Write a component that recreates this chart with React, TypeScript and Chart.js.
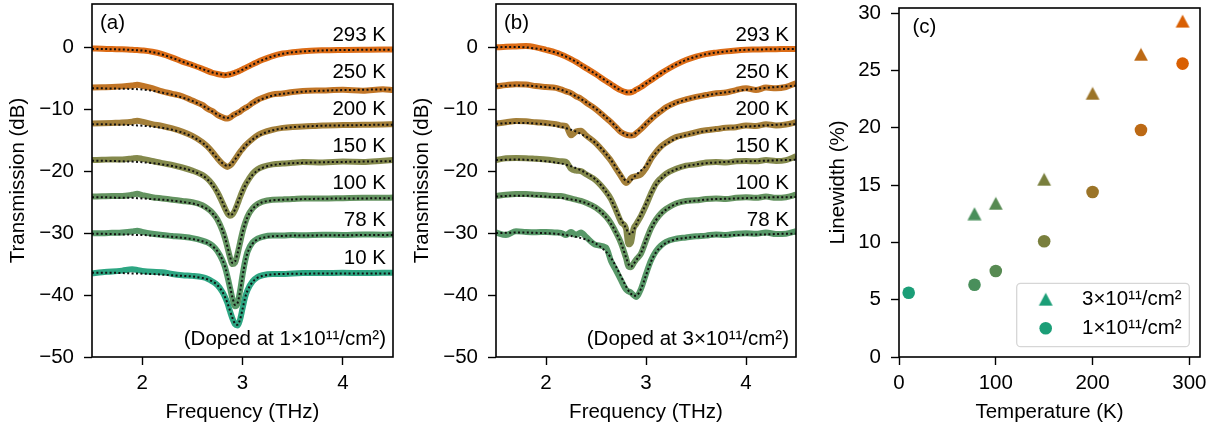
import React, { useEffect, useRef } from "react";
import { Chart, registerables } from "chart.js";
Chart.register(...registerables);

const FONT_FAMILY = '"Liberation Sans", Arial, Helvetica, sans-serif';
const FS = 20.5;

// ---------------- Panel (a): doped at 1e11 ----------------
const freqA = [
  1.5, 1.6, 1.7, 1.8, 1.9, 1.95, 2.0,
  2.1, 2.2, 2.3, 2.4, 2.5, 2.6,
  2.65, 2.7, 2.75, 2.8, 2.825, 2.85, 2.875, 2.9, 2.925, 2.95, 2.975, 3.0, 3.025, 3.05,
  3.1, 3.15, 3.2, 3.3, 3.4, 3.5, 3.6, 3.8, 4.0, 4.2, 4.4, 4.5,
];
const tempsA = [293, 250, 200, 150, 100, 78, 10];
const offsetsA = [0, -6, -12, -18, -24, -30, -36];

const dataA293 = [
  -0.2, -0.22, -0.28, -0.3, -0.4, -0.42, -0.5,
  -0.72, -1.1, -1.65, -2.3, -2.85, -3.45,
  -3.8, -4.1, -4.3, -4.45, -4.5, -4.45, -4.35, -4.25, -4.1, -3.95, -3.75, -3.55, -3.35, -3.15,
  -2.75, -2.35, -2.0, -1.4, -1.0, -0.78, -0.62, -0.48, -0.42, -0.38, -0.35, -0.35,
];
const fitA293 = [
  -0.25, -0.27, -0.3, -0.35, -0.42, -0.46, -0.52,
  -0.75, -1.15, -1.7, -2.3, -2.9, -3.5,
  -3.8, -4.05, -4.25, -4.4, -4.42, -4.4, -4.33, -4.22, -4.1, -3.95, -3.78, -3.6, -3.4, -3.2,
  -2.8, -2.4, -2.05, -1.45, -1.05, -0.8, -0.65, -0.5, -0.43, -0.4, -0.38, -0.37,
];
const dataA250 = [
  -6.5, -6.45, -6.4, -6.3, -6.15, -6.05, -6.2,
  -6.6, -7.1, -7.5, -7.9, -8.6, -9.3,
  -9.9, -10.3, -10.9, -11.3, -11.45, -11.5, -11.35, -11.05, -10.8, -10.6, -10.4, -10.05, -9.8, -9.6,
  -9.0, -8.5, -8.15, -7.6, -7.45, -7.2, -7.05, -6.95, -6.85, -7.0, -6.75, -6.9,
];
const fitA250 = [
  -6.6, -6.62, -6.65, -6.68, -6.72, -6.75, -6.8,
  -7.0, -7.3, -7.65, -8.1, -8.65, -9.4,
  -9.85, -10.35, -10.85, -11.25, -11.38, -11.4, -11.3, -11.1, -10.85, -10.6, -10.35, -10.1, -9.85, -9.6,
  -9.1, -8.65, -8.3, -7.8, -7.5, -7.3, -7.15, -7.0, -6.9, -6.85, -6.8, -6.8,
];
const dataA200 = [
  -12.3, -12.25, -12.2, -12.15, -12.0, -11.85, -12.0,
  -12.4, -12.7, -13.1, -13.6, -14.3, -15.3,
  -16.0, -16.9, -17.9, -18.8, -19.1, -19.3, -19.1, -18.7, -18.1, -17.5, -16.9, -16.4, -15.9, -15.5,
  -14.8, -14.2, -13.8, -13.3, -13.0, -12.85, -12.8, -12.6, -12.55, -12.5, -12.45, -12.4,
];
const fitA200 = [
  -12.4, -12.42, -12.45, -12.5, -12.55, -12.6, -12.65,
  -12.8, -13.0, -13.3, -13.75, -14.4, -15.4,
  -16.1, -17.0, -17.9, -18.7, -19.0, -19.15, -19.0, -18.6, -18.1, -17.55, -17.0, -16.5, -16.0, -15.6,
  -14.9, -14.35, -13.95, -13.4, -13.1, -12.9, -12.8, -12.65, -12.6, -12.55, -12.5, -12.5,
];
const dataA150 = [
  -18.2, -18.15, -18.1, -18.1, -17.95, -17.85, -18.0,
  -18.35, -18.7, -19.0, -19.4, -19.9, -20.6,
  -21.2, -22.1, -23.4, -25.1, -26.0, -26.8, -27.2, -27.0, -26.3, -25.3, -24.2, -23.2, -22.3, -21.6,
  -20.4, -19.7, -19.3, -18.9, -18.75, -18.65, -18.5, -18.6, -18.45, -18.5, -18.3, -18.2,
];
const fitA150 = [
  -18.3, -18.32, -18.35, -18.4, -18.45, -18.5, -18.55,
  -18.7, -18.9, -19.15, -19.5, -19.95, -20.7,
  -21.3, -22.2, -23.4, -25.0, -25.9, -26.7, -27.1, -26.9, -26.2, -25.2, -24.2, -23.2, -22.4, -21.7,
  -20.6, -19.9, -19.45, -19.0, -18.8, -18.7, -18.65, -18.55, -18.5, -18.45, -18.4, -18.4,
];
const dataA100 = [
  -24.1, -24.05, -24.0, -24.0, -23.8, -23.65, -23.85,
  -24.2, -24.4, -24.6, -24.8, -25.0, -25.5,
  -26.0, -26.7, -27.8, -29.6, -30.8, -32.3, -33.9, -35.0, -34.8, -33.4, -31.6, -29.8, -28.4, -27.3,
  -26.0, -25.3, -24.9, -24.6, -24.55, -24.5, -24.4, -24.4, -24.35, -24.3, -24.3, -24.25,
];
const fitA100 = [
  -24.2, -24.2, -24.25, -24.3, -24.3, -24.35, -24.4,
  -24.5, -24.6, -24.75, -24.95, -25.2, -25.7,
  -26.1, -26.8, -27.8, -29.5, -30.7, -32.2, -33.8, -34.8, -34.6, -33.3, -31.6, -29.9, -28.5, -27.4,
  -26.1, -25.4, -25.0, -24.7, -24.6, -24.55, -24.5, -24.45, -24.4, -24.4, -24.35, -24.35,
];
const dataA78 = [
  -30.0, -30.0, -29.95, -29.9, -29.75, -29.6, -29.8,
  -30.1, -30.3, -30.45, -30.6, -30.8, -31.2,
  -31.5, -32.0, -32.9, -34.4, -35.5, -37.0, -38.8, -40.6, -41.8, -41.4, -39.4, -36.8, -34.6, -33.0,
  -31.5, -30.9, -30.6, -30.4, -30.4, -30.3, -30.35, -30.25, -30.3, -30.2, -30.25, -30.2,
];
const fitA78 = [
  -30.1, -30.1, -30.15, -30.2, -30.25, -30.3, -30.3,
  -30.4, -30.5, -30.6, -30.75, -30.95, -31.3,
  -31.6, -32.1, -32.9, -34.3, -35.4, -36.8, -38.6, -40.4, -41.6, -41.3, -39.5, -37.0, -34.8, -33.2,
  -31.7, -31.0, -30.75, -30.5, -30.45, -30.4, -30.4, -30.35, -30.35, -30.3, -30.3, -30.3,
];
const dataA10 = [
  -36.5, -36.3, -36.2, -36.05, -35.85, -35.95, -36.1,
  -36.25, -36.3, -36.6, -36.8, -36.9, -37.1,
  -37.35, -37.8, -38.4, -39.5, -40.3, -41.3, -42.6, -43.8, -44.7, -44.9, -44.0, -42.2, -40.4, -39.2,
  -37.8, -37.1, -36.8, -36.6, -36.6, -36.5, -36.45, -36.45, -36.4, -36.45, -36.4, -36.4,
];
const fitA10 = [
  -36.4, -36.4, -36.4, -36.45, -36.5, -36.5, -36.55,
  -36.6, -36.7, -36.8, -36.9, -37.0, -37.25,
  -37.45, -37.8, -38.4, -39.5, -40.3, -41.3, -42.5, -43.7, -44.6, -44.8, -44.0, -42.3, -40.5, -39.3,
  -37.9, -37.2, -36.9, -36.65, -36.6, -36.55, -36.55, -36.5, -36.5, -36.5, -36.5, -36.5,
];

// ---------------- Panel (b): doped at 3e11 ----------------
const freqB = [
  1.5, 1.6, 1.7, 1.8, 1.9, 2.0,
  2.1, 2.15, 2.2, 2.25, 2.3, 2.35, 2.4,
  2.5, 2.6, 2.65, 2.7, 2.75, 2.8, 2.825, 2.85, 2.875, 2.9, 2.95, 3.0, 3.05,
  3.1, 3.15, 3.2, 3.3, 3.4, 3.5, 3.6, 3.7, 3.8, 3.9, 4.0, 4.1, 4.2, 4.3, 4.4, 4.5,
];
const tempsB = [293, 250, 200, 150, 100, 78];
const offsetsB = [0, -6, -12, -18, -24, -30];

const dataB293 = [
  0.0, 0.1, 0.15, 0.2, 0.0, -0.4,
  -0.85, -1.15, -1.5, -1.9, -2.35, -2.85, -3.35,
  -4.35, -5.45, -5.95, -6.5, -6.95, -7.25, -7.3, -7.25, -7.1, -6.85, -6.4, -5.85, -5.3,
  -4.75, -4.2, -3.7, -2.8, -2.05, -1.5, -1.1, -0.85, -0.65, -0.5, -0.4, -0.35, -0.3, -0.3, -0.25, -0.25,
];
const fitB293 = [
  0.0, 0.05, 0.05, 0.0, -0.2, -0.45,
  -0.85, -1.15, -1.5, -1.9, -2.35, -2.85, -3.35,
  -4.35, -5.4, -5.95, -6.5, -6.95, -7.2, -7.25, -7.2, -7.05, -6.85, -6.4, -5.85, -5.3,
  -4.75, -4.2, -3.7, -2.8, -2.05, -1.5, -1.1, -0.85, -0.65, -0.5, -0.4, -0.35, -0.32, -0.3, -0.28, -0.27,
];
const dataB250 = [
  -6.3, -6.1, -5.95, -6.0, -6.25, -6.4,
  -6.55, -6.8, -7.1, -7.4, -7.9, -8.3, -8.9,
  -10.0, -11.4, -12.1, -12.9, -13.7, -14.1, -14.2, -14.25, -14.2, -13.9, -13.2, -12.4, -11.6,
  -10.9, -10.3, -9.7, -8.9, -8.4, -8.0, -7.7, -7.4, -7.3, -6.9, -6.6, -6.9, -6.5, -6.6, -6.4, -5.8,
];
const fitB250 = [
  -6.3, -6.2, -6.15, -6.15, -6.3, -6.45,
  -6.65, -6.85, -7.15, -7.5, -7.9, -8.35, -8.85,
  -9.95, -11.3, -12.0, -12.85, -13.6, -14.05, -14.2, -14.2, -14.05, -13.8, -13.15, -12.35, -11.6,
  -10.9, -10.3, -9.8, -9.0, -8.45, -8.05, -7.75, -7.5, -7.25, -7.05, -6.85, -6.7, -6.55, -6.4, -6.3, -6.2,
];
const dataB200 = [
  -12.3, -12.1, -11.9, -11.95, -12.1, -12.2,
  -12.4, -12.6, -12.7, -14.2, -13.6, -13.45, -14.2,
  -15.5, -17.3, -18.3, -19.6, -20.8, -21.9, -21.6, -21.1, -20.9, -20.8, -20.5, -19.5, -18.0,
  -16.9, -16.0, -15.4, -14.5, -14.1, -13.7, -13.4, -13.2, -13.0, -12.9, -12.6, -12.7, -12.4, -12.6, -12.45, -12.1,
];
const fitB200 = [
  -12.35, -12.25, -12.2, -12.2, -12.3, -12.45,
  -12.7, -12.85, -13.05, -13.3, -13.6, -14.0, -14.4,
  -15.5, -17.2, -18.2, -19.4, -20.6, -21.6, -21.7, -21.5, -21.1, -20.6, -19.9, -19.1, -18.0,
  -17.0, -16.2, -15.6, -14.7, -14.2, -13.8, -13.5, -13.3, -13.1, -12.95, -12.8, -12.7, -12.6, -12.5, -12.45, -12.4,
];
const dataB150 = [
  -18.2, -17.9, -17.85, -17.9, -18.0, -18.1,
  -18.3, -18.4, -18.5, -19.6, -19.9, -20.0, -20.5,
  -21.5, -23.3, -24.5, -26.3, -28.2, -29.3, -31.8, -31.5, -29.3, -28.6, -27.2, -25.5, -23.6,
  -22.0, -21.1, -20.4, -19.6, -19.1, -18.9, -18.6, -18.5, -18.6, -18.4, -18.35, -18.4, -18.2, -18.35, -18.2, -17.6,
];
const fitB150 = [
  -18.2, -18.15, -18.1, -18.15, -18.25, -18.4,
  -18.6, -18.75, -18.95, -19.2, -19.5, -19.85, -20.3,
  -21.4, -23.3, -24.6, -26.2, -27.8, -29.2, -30.0, -30.2, -29.6, -28.7, -27.0, -25.3, -23.6,
  -22.2, -21.2, -20.5, -19.7, -19.2, -18.9, -18.7, -18.6, -18.5, -18.45, -18.4, -18.35, -18.3, -18.25, -18.2, -18.15,
];
const dataB100 = [
  -24.0, -23.8, -23.7, -23.7, -23.8, -23.9,
  -24.0, -24.0, -24.2, -24.4, -24.6, -24.8, -25.1,
  -25.9, -27.3, -28.4, -29.9, -31.6, -34.0, -35.4, -35.5, -34.9, -34.3, -33.3, -31.2, -29.2,
  -27.8, -26.8, -26.1, -25.2, -24.8, -24.7, -24.5, -24.4, -24.5, -24.3, -24.2, -24.3, -24.1, -24.3, -24.2, -23.8,
];
const fitB100 = [
  -24.1, -24.0, -23.95, -23.95, -24.0, -24.1,
  -24.2, -24.3, -24.4, -24.55, -24.7, -24.9, -25.15,
  -25.9, -27.4, -28.5, -29.9, -31.6, -33.9, -35.0, -35.4, -35.0, -34.4, -33.2, -31.2, -29.3,
  -27.9, -26.9, -26.2, -25.3, -24.95, -24.75, -24.6, -24.5, -24.45, -24.4, -24.35, -24.3, -24.25, -24.2, -24.2, -24.15,
];
const dataB78 = [
  -29.9, -30.3, -29.7, -29.8, -29.85, -29.8,
  -29.9, -29.95, -30.3, -29.8, -30.3, -29.9, -30.6,
  -31.9, -32.3, -34.5, -36.0, -37.6, -39.1, -39.4, -39.6, -40.0, -40.3, -39.0, -36.6, -34.4,
  -32.9, -32.0, -31.4, -30.9, -30.7, -30.5, -30.4, -30.2, -30.3, -30.1, -30.0, -30.1, -29.9, -30.15, -30.1, -29.7,
];
const fitB78 = [
  -30.0, -29.95, -29.9, -29.9, -29.95, -30.0,
  -30.1, -30.2, -30.3, -30.45, -30.6, -30.8, -31.05,
  -31.7, -33.0, -34.0, -35.4, -37.0, -38.6, -39.3, -39.8, -40.1, -40.1, -39.0, -36.8, -34.6,
  -33.1, -32.2, -31.6, -31.0, -30.75, -30.6, -30.5, -30.4, -30.35, -30.3, -30.25, -30.2, -30.2, -30.15, -30.1, -30.1,
];

// ---------------- Panel (c): linewidth vs temperature ----------------
const tempsC3 = [78, 100, 150, 200, 250, 293];
const linewidth3 = [12.5, 13.4, 15.5, 23.0, 26.4, 29.3];
const tempsC1 = [10, 78, 100, 150, 200, 250, 293];
const linewidth1 = [5.6, 6.3, 7.5, 10.1, 14.4, 19.8, 25.6];

const spectraYTicks = [-50, -40, -30, -20, -10, 0];
const spectraXTicks = [2, 3, 4];
const lwYTicks = [0, 5, 10, 15, 20, 25, 30];
const lwXTicks = [0, 100, 200, 300];

const legendLabels = ["3×10¹¹/cm²", "1×10¹¹/cm²"];

// ---------------- helpers ----------------
const TEAL = [27, 158, 119];
const ORANGE = [217, 95, 2];
function tempColor(T: number, a = 1) {
  const t = (T - 10) / (293 - 10);
  const c = TEAL.map((v, i) => Math.round(v + (ORANGE[i] - v) * t));
  return `rgba(${c[0]},${c[1]},${c[2]},${a})`;
}
const fmtTick = (v: any) => String(v).replace("-", "\u2212");

function axis(opts: {
  min: number; max: number; ticks: number[]; title: string; isX: boolean; size: number; tickPad: number; titlePad: any;
}) {
  return {
    type: "linear",
    position: opts.isX ? "bottom" : "left",
    min: opts.min,
    max: opts.max,
    afterBuildTicks: (s: any) => {
      s.ticks = opts.ticks.map((v) => ({ value: v }));
    },
    afterFit: (s: any) => {
      if (opts.isX) {
        s.height = opts.size;
        s.paddingLeft = 0;
        s.paddingRight = 0;
      } else {
        s.width = opts.size;
        s.paddingTop = 0;
        s.paddingBottom = 0;
      }
    },
    grid: {
      display: true,
      drawOnChartArea: false,
      drawTicks: true,
      tickLength: 8,
      tickWidth: 1.4,
      tickColor: "#000",
    },
    border: { display: false },
    ticks: {
      color: "#000",
      font: { family: FONT_FAMILY, size: FS },
      padding: opts.tickPad,
      autoSkip: false,
      maxRotation: 0,
      callback: (v: any) => fmtTick(v),
    },
    title: {
      display: true,
      text: opts.title,
      color: "#000",
      font: { family: FONT_FAMILY, size: FS },
      padding: opts.titlePad,
    },
  };
}

function drawFrame(chart: any) {
  const { ctx, chartArea: ca } = chart;
  ctx.save();
  ctx.strokeStyle = "#000";
  ctx.lineWidth = 1.6;
  ctx.strokeRect(ca.left, ca.top, ca.right - ca.left, ca.bottom - ca.top);
  ctx.restore();
}

function makeSpectra(
  canvas: HTMLCanvasElement,
  freq: number[],
  temps: number[],
  offsets: number[],
  data: number[][],
  fits: number[][],
  panel: string,
  doped: string,
  padRight: number
) {
  const datasets: any[] = [];
  temps.forEach((T, i) => {
    datasets.push({
      data: freq.map((f, k) => ({ x: f, y: data[i][k] })),
      borderColor: tempColor(T, 0.92),
      borderWidth: 6,
      pointRadius: 0,
      cubicInterpolationMode: "monotone",
      borderCapStyle: "butt",
      borderJoinStyle: "round",
      fill: false,
      order: 2,
    });
    datasets.push({
      data: freq.map((f, k) => ({ x: f, y: fits[i][k] })),
      borderColor: "#111",
      borderWidth: 2,
      borderDash: [2, 2.4],
      pointRadius: 0,
      cubicInterpolationMode: "monotone",
      borderCapStyle: "butt",
      fill: false,
      order: 1,
    });
  });
  return new Chart(canvas, {
    type: "line",
    data: { datasets },
    options: {
      responsive: false,
      animation: false,
      events: [],
      layout: { padding: { left: 0, top: 4, right: padRight, bottom: 0 } },
      plugins: { legend: { display: false }, tooltip: { enabled: false } },
      scales: {
        x: axis({ min: 1.5, max: 4.5, ticks: spectraXTicks, title: "Frequency (THz)", isX: true, size: 75, tickPad: 6, titlePad: { top: 0, bottom: 7 } }),
        y: axis({ min: -50, max: 7, ticks: spectraYTicks, title: "Transmission (dB)", isX: false, size: 92, tickPad: 10, titlePad: { top: 5.7, bottom: 0 } }),
      } as any,
    },
    plugins: [
      {
        id: "spectraDecor",
        afterDatasetsDraw(chart: any) {
          drawFrame(chart);
        },
        afterDraw(chart: any) {
          const { ctx, chartArea: ca, scales } = chart;
          ctx.save();
          ctx.fillStyle = "#000";
          ctx.font = `${FS}px ${FONT_FAMILY}`;
          ctx.textBaseline = "middle";
          ctx.textAlign = "left";
          ctx.fillText(panel, ca.left + 8, ca.top + 19.5);
          ctx.textAlign = "right";
          temps.forEach((T, i) => {
            ctx.fillText(`${T} K`, ca.right - 7, scales.y.getPixelForValue(offsets[i] + 2));
          });
          ctx.fillText(doped, ca.right - 7, scales.y.getPixelForValue(-47.2));
          ctx.restore();
        },
      },
    ],
  } as any);
}

function triangleImg(color: string) {
  const c = document.createElement("canvas");
  c.width = 16;
  c.height = 14;
  const g = c.getContext("2d")!;
  g.fillStyle = color;
  g.beginPath();
  g.moveTo(8, 0.5);
  g.lineTo(15, 13.5);
  g.lineTo(1, 13.5);
  g.closePath();
  g.fill();
  return c;
}

function makeLinewidth(canvas: HTMLCanvasElement) {
  const triImgs = tempsC3.map((T) => triangleImg(tempColor(T)));
  const legendTri = triangleImg(tempColor(10));
  return new Chart(canvas, {
    type: "scatter",
    data: {
      datasets: [
        {
          data: tempsC3.map((T, i) => ({ x: T, y: linewidth3[i] })),
          pointStyle: triImgs,
          pointRadius: 7,
          showLine: false,
        },
        {
          data: tempsC1.map((T, i) => ({ x: T, y: linewidth1[i] })),
          pointStyle: "circle",
          pointRadius: 6.3,
          pointBorderWidth: 0,
          backgroundColor: tempsC1.map((T) => tempColor(T)),
          borderColor: tempsC1.map((T) => tempColor(T)),
          showLine: false,
        },
      ],
    },
    options: {
      responsive: false,
      animation: false,
      events: [],
      layout: { padding: { left: 0, top: 4, right: 15, bottom: 0 } },
      plugins: { legend: { display: false }, tooltip: { enabled: false } },
      scales: {
        x: axis({ min: 0, max: 311, ticks: lwXTicks, title: "Temperature (K)", isX: true, size: 75, tickPad: 6, titlePad: { top: 0, bottom: 7 } }),
        y: axis({ min: 0, max: 30.45, ticks: lwYTicks, title: "Linewidth (%)", isX: false, size: 79, tickPad: 10, titlePad: { top: 5.7, bottom: 0 } }),
      } as any,
    },
    plugins: [
      {
        id: "lwDecor",
        afterDatasetsDraw(chart: any) {
          drawFrame(chart);
        },
        afterDraw(chart: any) {
          const { ctx, chartArea: ca } = chart;
          ctx.save();
          ctx.fillStyle = "#000";
          ctx.font = `${FS}px ${FONT_FAMILY}`;
          ctx.textBaseline = "middle";
          ctx.textAlign = "left";
          ctx.fillText("(c)", ca.left + 13.5, ca.top + 19.5);

          // legend box
          const w = 172.6;
          const h = 63.4;
          const x0 = ca.right - 10.7 - w;
          const y0 = ca.bottom - 10.3 - h;
          const r = 4;
          ctx.beginPath();
          ctx.moveTo(x0 + r, y0);
          ctx.lineTo(x0 + w - r, y0);
          ctx.arcTo(x0 + w, y0, x0 + w, y0 + r, r);
          ctx.lineTo(x0 + w, y0 + h - r);
          ctx.arcTo(x0 + w, y0 + h, x0 + w - r, y0 + h, r);
          ctx.lineTo(x0 + r, y0 + h);
          ctx.arcTo(x0, y0 + h, x0, y0 + h - r, r);
          ctx.lineTo(x0, y0 + r);
          ctx.arcTo(x0, y0, x0 + r, y0, r);
          ctx.closePath();
          ctx.fillStyle = "rgba(255,255,255,0.8)";
          ctx.fill();
          ctx.strokeStyle = "#d6d6d6";
          ctx.lineWidth = 1.3;
          ctx.stroke();

          const mx = x0 + 29;
          const row1 = y0 + 16;
          const row2 = y0 + 45;
          ctx.drawImage(legendTri, mx - legendTri.width / 2, row1 - legendTri.height / 2);
          ctx.fillStyle = tempColor(10);
          ctx.beginPath();
          ctx.arc(mx, row2, 6.3, 0, Math.PI * 2);
          ctx.fill();

          ctx.fillStyle = "#000";
          ctx.fillText(legendLabels[0], x0 + 65.3, row1);
          ctx.fillText(legendLabels[1], x0 + 65.3, row2);
          ctx.restore();
        },
      },
    ],
  } as any);
}

export default function App() {
  const refA = useRef<HTMLCanvasElement>(null);
  const refB = useRef<HTMLCanvasElement>(null);
  const refC = useRef<HTMLCanvasElement>(null);

  useEffect(() => {
    const charts: Chart[] = [];
    if (refA.current) {
      charts.push(
        makeSpectra(
          refA.current,
          freqA,
          tempsA,
          offsetsA,
          [dataA293, dataA250, dataA200, dataA150, dataA100, dataA78, dataA10],
          [fitA293, fitA250, fitA200, fitA150, fitA100, fitA78, fitA10],
          "(a)",
          "(Doped at 1×10¹¹/cm²)",
          7
        )
      );
    }
    if (refB.current) {
      charts.push(
        makeSpectra(
          refB.current,
          freqB,
          tempsB,
          offsetsB,
          [dataB293, dataB250, dataB200, dataB150, dataB100, dataB78],
          [fitB293, fitB250, fitB200, fitB150, fitB100, fitB78],
          "(b)",
          "(Doped at 3×10¹¹/cm²)",
          8
        )
      );
    }
    if (refC.current) charts.push(makeLinewidth(refC.current));
    return () => charts.forEach((c) => c.destroy());
  }, []);

  const cs = (left: number, width: number): React.CSSProperties => ({
    position: "absolute",
    left,
    top: 0,
    width,
    height: 432,
  });

  return (
    <div style={{ position: "fixed", left: 0, top: 0, width: 1215, height: 432, background: "#fff" }}>
      <canvas ref={refA} width={400} height={432} style={cs(0, 400)} />
      <canvas ref={refB} width={400} height={432} style={cs(404, 400)} />
      <canvas ref={refC} width={395} height={432} style={cs(820, 395)} />
    </div>
  );
}
